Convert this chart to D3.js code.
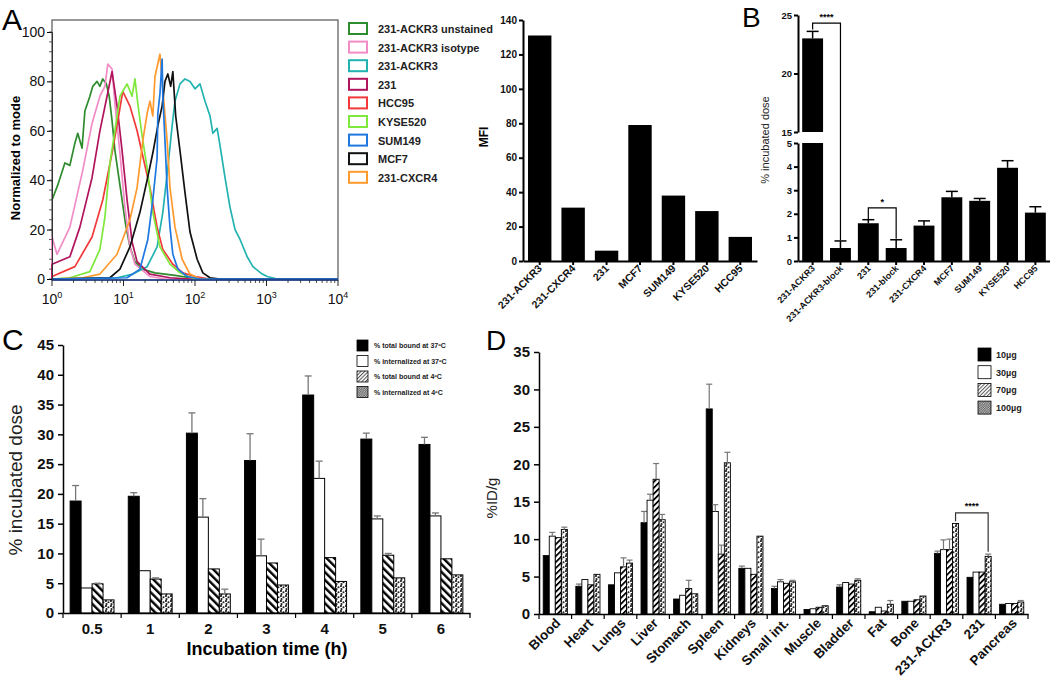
<!DOCTYPE html>
<html><head><meta charset="utf-8">
<script src="https://cdn.jsdelivr.net/npm/d3@7"></script>
<style>body{margin:0;background:#fff}svg{font-family:Arial,"Liberation Sans",sans-serif}</style>
</head><body>
<svg id="c" width="1050" height="690"></svg>
<script>
// ---------- Panel A: histogram (log10 intensity, % of mode) ----------
const histNames = ["231-ACKR3 unstained","231-ACKR3 isotype","231-ACKR3","231","HCC95","KYSE520","SUM149","MCF7","231-CXCR4"];
const histColors = ["#2e8b2e","#f28cc6","#22b3b0","#b0145c","#f23a3a","#7ee83c","#1f78e0","#111111","#ff9a2e"];
const curveUnstained = [[0,32],[.08,38],[.18,47],[.25,46],[.32,55],[.36,59],[.42,53],[.46,68],[.53,74],[.57,78],[.63,80],[.67,78],[.71,81],[.76,79],[.80,74],[.84,64],[.88,52],[.94,40],[.98,32],[1.03,22],[1.09,13],[1.16,7],[1.26,4],[1.44,2.5],[1.72,1.5],[1.93,.5],[2.07,0],[4,0]];
const curveIsotype = [[0,0],[0,17],[.07,10],[.25,21],[.43,44],[.56,63],[.67,74],[.74,78],[.78,87],[.84,85],[.88,71],[.95,51],[1.02,29],[1.09,13],[1.16,6],[1.37,1],[1.58,0],[4,0]];
const curveACKR3 = [[0,0],[.91,.5],[1.13,2],[1.33,5],[1.47,13],[1.55,27],[1.62,45],[1.68,62],[1.72,72],[1.79,79],[1.86,81],[1.93,80],[2.0,77],[2.07,79],[2.14,72],[2.21,66],[2.25,59],[2.31,61],[2.35,54],[2.42,41],[2.49,29],[2.56,20],[2.63,16],[2.73,9],[2.81,5],[2.94,2],[3.01,1],[3.15,0],[4,0]];
const curve231 = [[0,0],[0,6],[.25,9],[.39,21],[.56,41],[.67,60],[.77,74],[.84,84],[.91,70],[.98,52],[1.05,32],[1.12,15],[1.19,7],[1.37,2],[1.65,.5],[1.92,0],[4,0]];
const curveHCC95 = [[0,1],[.32,5],[.56,17],[.71,32],[.84,51],[.92,64],[.99,76],[1.09,70],[1.19,60],[1.26,51],[1.37,37],[1.47,21],[1.55,12],[1.69,6],[1.83,2.5],[2.0,1],[2.21,0],[4,0]];
const curveKYSE520 = [[0,0],[.25,.5],[.53,3],[.67,12],[.74,25],[.81,47],[.88,60],[.95,74],[1.05,79],[1.12,74],[1.16,81],[1.20,71],[1.26,58],[1.33,45],[1.41,27],[1.51,13],[1.65,6],[1.79,2.5],[2.0,0],[4,0]];
const curveSUM149 = [[0,0],[1.05,.5],[1.23,4],[1.34,16],[1.41,32],[1.47,49],[1.48,67],[1.51,75],[1.54,89],[1.55,74],[1.58,56],[1.61,37],[1.65,21],[1.69,10],[1.76,4],[1.89,1],[2.07,0],[4,0]];
const curveMCF7 = [[0,0],[.81,.5],[.95,4],[1.09,13],[1.23,27],[1.33,40],[1.41,51],[1.48,62],[1.54,70],[1.58,80],[1.62,83],[1.66,78],[1.69,84],[1.73,66],[1.79,52],[1.86,35],[1.93,19],[2.03,8],[2.11,2.5],[2.21,.5],[2.35,0],[4,0]];
const curveCXCR4 = [[0,0],[.43,.5],[.67,2],[.91,10],[1.09,24],[1.19,37],[1.27,56],[1.33,67],[1.37,72],[1.41,66],[1.44,82],[1.51,91],[1.55,77],[1.61,56],[1.65,37],[1.72,21],[1.82,8],[1.93,2],[2.07,0],[4,0]];
const histCurves = [curveUnstained,curveIsotype,curveACKR3,curve231,curveHCC95,curveKYSE520,curveSUM149,curveMCF7,curveCXCR4];
const histDrawOrder = [0,1,2,3,4,5,8,7,6];
const histYTicks = [0,20,40,60,80,100];
const histXExps = [0,1,2,3,4];

// ---------- Panel A: MFI bars ----------
const mfiCategories = ["231-ACKR3","231-CXCR4","231","MCF7","SUM149","KYSE520","HCC95"];
const mfiValues = [131,31,6,79,38,29,14];
const mfiTicks = [0,20,40,60,80,100,120,140];

// ---------- Panel B ----------
const bCategories = ["231-ACKR3","231-ACKR3-block","231","231-block","231-CXCR4","MCF7","SUM149","KYSE520","HCC95"];
const bValues = [23.0,0.55,1.6,0.55,1.5,2.7,2.55,3.95,2.05];
const bErrors = [0.6,0.3,0.15,0.35,0.2,0.25,0.1,0.3,0.25];
const bTicksLow = [0,1,2,3,4,5];
const bTicksHigh = [15,20,25];

// ---------- Panel C ----------
const cTimes = ["0.5","1","2","3","4","5","6"];
const cSeries = ["% total bound at 37ºC","% internalized at 37ºC","% total bound at 4ºC","% internalized at 4ºC"];
const cTotal37 = [18.8,19.6,30.2,25.6,36.6,29.2,28.3];
const cTotal37Err = [2.6,0.6,3.4,4.5,3.2,1.0,1.2];
const cInt37 = [4.2,7.1,16.1,9.6,22.6,15.8,16.3];
const cInt37Err = [0,0,3.1,2.8,2.9,0.5,0.5];
const cTotal4 = [4.9,5.7,7.4,8.4,9.3,9.7,9.1];
const cTotal4Err = [0.1,0.2,0,0,0,0.3,0];
const cInt4 = [2.2,3.2,3.2,4.7,5.3,5.9,6.4];
const cInt4Err = [0,0,0.8,0,0,0,0];
const cTicks = [0,5,10,15,20,25,30,35,40,45];

// ---------- Panel D ----------
const dOrgans = ["Blood","Heart","Lungs","Liver","Stomach","Spleen","Kidneys","Small int.","Muscle","Bladder","Fat","Bone","231-ACKR3","231","Pancreas"];
const dSeries = ["10µg","30µg","70µg","100µg"];
const d10 = [7.8,3.7,3.9,12.2,2.0,27.4,6.1,3.4,0.6,3.6,0.3,1.7,8.1,4.9,1.3];
const d10Err = [0,0.3,0,1.5,0,3.3,0.3,0.3,0,0.3,0,0,0.3,0,0];
const d30 = [10.4,4.6,5.5,15.2,2.5,13.7,6.1,4.3,0.7,4.2,0.9,1.7,8.6,5.6,1.4];
const d30Err = [0.5,0,0,0.8,0,0.9,0,0.3,0,0,0,0,1.3,0,0];
const d70 = [10.2,3.9,6.3,18.0,3.4,8.0,5.3,4.1,0.9,4.0,0.4,1.9,8.6,5.6,1.4];
const d70Err = [0,0,1.2,2.1,1.1,1.2,0,0,0,0,0,0,1.4,0,0];
const d100 = [11.3,5.3,6.8,12.6,2.7,20.2,10.4,4.3,1.1,4.5,1.3,2.4,12.1,7.7,1.6];
const d100Err = [0.3,0,0.4,0.7,0,1.4,0,0.2,0,0.2,0.5,0,0,0.3,0.2];
const dTicks = [0,5,10,15,20,25,30,35];

// =====================================================
const svg = d3.select("#c");
const defs = svg.append("defs");
function stripes(id, angle, size, w, color){
  const p = defs.append("pattern").attr("id",id).attr("patternUnits","userSpaceOnUse")
    .attr("width",size).attr("height",size).attr("patternTransform",`rotate(${angle})`);
  p.append("rect").attr("width",size).attr("height",size).attr("fill","#fff");
  p.append("rect").attr("width",w).attr("height",size).attr("fill",color);
}
function dots(id, size, r, bg, fg, pts){
  const p = defs.append("pattern").attr("id",id).attr("patternUnits","userSpaceOnUse")
    .attr("width",size).attr("height",size);
  p.append("rect").attr("width",size).attr("height",size).attr("fill",bg);
  pts.forEach(q=>p.append("circle").attr("cx",q[0]*size).attr("cy",q[1]*size).attr("r",r).attr("fill",fg));
}
stripes("hatchC",-45,5.5,2.4,"#000");
stripes("hatchD",45,4.2,1.8,"#000");
stripes("hatchFine",45,2.6,1,"#555");
dots("dotC",5,1.05,"#fff","#222",[[0.2,0.2],[0.7,0.45],[0.3,0.8]]);
dots("dotFine",2.4,0.7,"#ccc","#555",[[0.25,0.25],[0.75,0.75]]);

function styleAxis(g, fs, fw, sw){
  g.attr("font-family",null).attr("font-size",null);
  g.selectAll("text").attr("font-size",fs).attr("font-weight",fw).attr("fill","#111");
  g.selectAll(".tick line").attr("stroke","#000").attr("stroke-width",sw);
  g.select(".domain").attr("stroke","#000").attr("stroke-width",sw);
}
function letter(t,x,y,fs){ svg.append("text").attr("x",x).attr("y",y).attr("font-size",fs).text(t); }

// ---------------- Panel A histogram ----------------
letter("A",2,30,30);
const hx = d3.scaleLog().domain([1,1e4]).range([52,338]);
const hy = d3.scaleLinear().domain([0,100]).range([279,32]);
svg.append("rect").attr("x",52).attr("y",20).attr("width",286).attr("height",260)
  .attr("fill","none").attr("stroke","#555").attr("stroke-width",1.2);
const hline = d3.line().x(d=>hx(Math.pow(10,d[0]))).y(d=>hy(d[1]));
histDrawOrder.forEach(i=>{
  svg.append("path").attr("d",hline(histCurves[i])).attr("fill","none")
    .attr("stroke",histColors[i]).attr("stroke-width",1.7).attr("stroke-linejoin","round");
});
const hyAxis = svg.append("g").attr("transform","translate(52,0)")
  .call(d3.axisLeft(hy).tickValues(histYTicks).tickSize(5).tickPadding(2));
styleAxis(hyAxis,14,"normal",1);
hyAxis.select(".domain").attr("stroke","#333");
d3.range(0,101,4).forEach(v=>{
  svg.append("line").attr("x1",49).attr("x2",52).attr("y1",hy(v)).attr("y2",hy(v)).attr("stroke","#333").attr("stroke-width",0.8);
});
const hxg = svg.append("g");
hxg.append("line").attr("x1",52).attr("x2",338).attr("y1",280).attr("y2",280).attr("stroke","#1a3a8a").attr("stroke-width",1.5);
histXExps.forEach(e=>{
  const v = Math.pow(10,e);
  hxg.append("line").attr("x1",hx(v)).attr("x2",hx(v)).attr("y1",280).attr("y2",286).attr("stroke","#222");
  if(e<4) d3.range(2,10).forEach(m=>{
    hxg.append("line").attr("x1",hx(m*v)).attr("x2",hx(m*v)).attr("y1",280).attr("y2",283).attr("stroke","#222").attr("stroke-width",0.8);
  });
  const t = hxg.append("text").attr("x",hx(v)).attr("y",304).attr("text-anchor","middle").attr("font-size",14).attr("fill","#111");
  t.append("tspan").text("10");
  t.append("tspan").attr("dy",-6).attr("font-size",9).text(e);
});
svg.append("text").attr("transform","translate(20,158) rotate(-90)").attr("text-anchor","middle")
  .attr("font-size",13).attr("font-weight","bold").text("Normalized to mode");
histNames.forEach((n,i)=>{
  const y = 23 + i*18.6;
  svg.append("rect").attr("x",349).attr("y",y).attr("width",18).attr("height",11)
    .attr("fill","#fff").attr("stroke",histColors[i]).attr("stroke-width",2);
  svg.append("text").attr("x",378).attr("y",y+10).attr("font-size",11).attr("font-weight","bold").attr("fill","#222").text(n);
});

// ---------------- Panel A MFI bars ----------------
const mx = d3.scaleBand().domain(mfiCategories).range([523,757]).paddingInner(0.3).paddingOuter(0.15);
const my = d3.scaleLinear().domain([0,140]).range([261,20]);
svg.append("g").selectAll("rect").data(mfiCategories).join("rect")
  .attr("x",d=>mx(d)).attr("width",mx.bandwidth())
  .attr("y",(d,i)=>my(mfiValues[i])).attr("height",(d,i)=>my(0)-my(mfiValues[i])).attr("fill","#000");
const myAxis = svg.append("g").attr("transform","translate(523,0)")
  .call(d3.axisLeft(my).tickValues(mfiTicks).tickSize(4).tickSizeOuter(0).tickPadding(2));
styleAxis(myAxis,10,"bold",2);
const mxAxis = svg.append("g").attr("transform","translate(0,261)")
  .call(d3.axisBottom(mx).tickSize(4).tickSizeOuter(0));
styleAxis(mxAxis,10.5,"bold",2);
mxAxis.selectAll("text").attr("text-anchor","end").attr("dy",null).attr("y",null)
  .attr("transform","translate(3,8) rotate(-45)");
svg.append("text").attr("transform","translate(488,137) rotate(-90)").attr("text-anchor","middle")
  .attr("font-size",12).attr("font-weight","bold").text("MFI");

// ---------------- Panel B ----------------
letter("B",742,27,28);
const bx = d3.scaleBand().domain(bCategories).range([798,1050]).paddingInner(0.25).paddingOuter(0.15);
const byL = d3.scaleLinear().domain([0,5]).range([261,143]);
const byH = d3.scaleLinear().domain([15,25]).range([132,15]);
const bY = v => v<=5 ? byL(v) : byH(v);
bCategories.forEach((c,i)=>{
  const v = bValues[i], x = bx(c), w = bx.bandwidth();
  if(v<=5){
    svg.append("rect").attr("x",x).attr("width",w).attr("y",byL(v)).attr("height",byL(0)-byL(v)).attr("fill","#000");
  } else {
    svg.append("rect").attr("x",x).attr("width",w).attr("y",byL(5)).attr("height",byL(0)-byL(5)).attr("fill","#000");
    svg.append("rect").attr("x",x).attr("width",w).attr("y",byH(v)).attr("height",byH(15)-byH(v)).attr("fill","#000");
  }
  const cxm = x + w/2, top = bY(v+bErrors[i]);
  svg.append("line").attr("x1",cxm).attr("x2",cxm).attr("y1",bY(v)).attr("y2",top).attr("stroke","#000").attr("stroke-width",1.5);
  svg.append("line").attr("x1",cxm-6).attr("x2",cxm+6).attr("y1",top).attr("y2",top).attr("stroke","#000").attr("stroke-width",1.5);
});
const bAxL = svg.append("g").attr("transform","translate(798,0)")
  .call(d3.axisLeft(byL).tickValues(bTicksLow).tickFormat(d3.format("d")).tickSize(4).tickSizeOuter(0).tickPadding(2));
styleAxis(bAxL,9.5,"bold",2);
const bAxH = svg.append("g").attr("transform","translate(798,0)")
  .call(d3.axisLeft(byH).tickValues(bTicksHigh).tickFormat(d3.format("d")).tickSize(4).tickSizeOuter(0).tickPadding(2));
styleAxis(bAxH,9.5,"bold",2);
const bxAxis = svg.append("g").attr("transform","translate(0,261)")
  .call(d3.axisBottom(bx).tickSize(4).tickSizeOuter(0));
styleAxis(bxAxis,9,"bold",2);
bxAxis.selectAll("text").attr("text-anchor","end").attr("dy",null).attr("y",null)
  .attr("transform","translate(3,8) rotate(-45)");
svg.append("text").attr("transform","translate(769,140) rotate(-90)").attr("text-anchor","middle")
  .attr("font-size",11).attr("fill","#222").text("% incubated dose");
function bracket(x1,y1,x2,y2,yh,label){
  svg.append("path").attr("d",`M${x1},${y1}V${yh}H${x2}V${y2}`).attr("fill","none").attr("stroke","#000").attr("stroke-width",1.2);
  svg.append("text").attr("x",(x1+x2)/2).attr("y",yh-3).attr("text-anchor","middle").attr("font-size",9).attr("font-weight","bold").text(label);
}
{
  const c0 = bx(bCategories[0])+bx.bandwidth()/2, c1 = bx(bCategories[1])+bx.bandwidth()/2;
  bracket(c0,bY(bValues[0]+bErrors[0])-2,c1,bY(bValues[1]+bErrors[1])-1,byH(24.3),"****");
  const c2 = bx(bCategories[2])+bx.bandwidth()/2, c3 = bx(bCategories[3])+bx.bandwidth()/2;
  bracket(c2,byL(2.25)+12,c3,bY(bValues[3]+bErrors[3])-1,byL(2.25),"*");
}

// ---------------- Panel C ----------------
letter("C",2,350,30);
const cx0 = d3.scaleBand().domain(cTimes).range([63,470]);
const cx1 = d3.scaleBand().domain(cSeries).range([0,cx0.bandwidth()]).paddingOuter(0.65);
const cy = d3.scaleLinear().domain([0,45]).range([613,345]);
const cVals = [cTotal37,cInt37,cTotal4,cInt4];
const cErrs = [cTotal37Err,cInt37Err,cTotal4Err,cInt4Err];
const cFills = ["#000","#fff","url(#hatchC)","url(#dotC)"];
cSeries.forEach((s,si)=>{
  cTimes.forEach((t,ti)=>{
    const v = cVals[si][ti], e = cErrs[si][ti];
    const x = cx0(t)+cx1(s), w = cx1.bandwidth();
    svg.append("rect").attr("x",x).attr("width",w).attr("y",cy(v)).attr("height",cy(0)-cy(v))
      .attr("fill",cFills[si]).attr("stroke","#000").attr("stroke-width",1);
    if(e>0){
      const xm = x+w/2;
      svg.append("line").attr("x1",xm).attr("x2",xm).attr("y1",cy(v)).attr("y2",cy(v+e)).attr("stroke","#777").attr("stroke-width",1.3);
      svg.append("line").attr("x1",xm-3.5).attr("x2",xm+3.5).attr("y1",cy(v+e)).attr("y2",cy(v+e)).attr("stroke","#777").attr("stroke-width",1.3);
    }
  });
});
const cyAxis = svg.append("g").attr("transform","translate(63,0)")
  .call(d3.axisLeft(cy).tickValues(cTicks).tickSize(5).tickSizeOuter(0).tickPadding(4));
styleAxis(cyAxis,15,"bold",1.5);
const cxAxis = svg.append("g").attr("transform","translate(0,613)")
  .call(d3.axisBottom(cx0).tickSize(0).tickSizeOuter(0).tickPadding(10));
styleAxis(cxAxis,15,"bold",1.5);
cTimes.concat([null]).forEach(t=>{
  const x = t===null ? 470 : cx0(t);
  svg.append("line").attr("x1",x).attr("x2",x).attr("y1",613).attr("y2",618).attr("stroke","#000").attr("stroke-width",1.2);
});
svg.append("text").attr("x",267).attr("y",655).attr("text-anchor","middle").attr("font-size",18).attr("font-weight","bold").text("Incubation time (h)");
svg.append("text").attr("transform","translate(22,480) rotate(-90)").attr("text-anchor","middle")
  .attr("font-size",19).attr("fill","#222").text("% incubated dose");
const cLegFills = ["#000","#fff","url(#hatchFine)","url(#dotFine)"];
cSeries.forEach((s,i)=>{
  const y = 340 + i*15.5;
  svg.append("rect").attr("x",357).attr("y",y).attr("width",11).attr("height",11).attr("fill",cLegFills[i]).attr("stroke","#000").attr("stroke-width",0.8);
  svg.append("text").attr("x",374).attr("y",y+8).attr("font-size",7).attr("font-weight","bold").attr("fill","#222").text(s);
});

// ---------------- Panel D ----------------
letter("D",486,350,28);
const dx0 = d3.scaleBand().domain(dOrgans).range([539,1028]);
const dx1 = d3.scaleBand().domain(dSeries).range([0,dx0.bandwidth()]).paddingOuter(0.7);
const dy = d3.scaleLinear().domain([0,35]).range([614,352]);
const dVals = [d10,d30,d70,d100];
const dErrs = [d10Err,d30Err,d70Err,d100Err];
const dFills = ["#000","#fff","url(#hatchD)","url(#dotC)"];
dSeries.forEach((s,si)=>{
  dOrgans.forEach((o,oi)=>{
    const v = dVals[si][oi], e = dErrs[si][oi];
    const x = dx0(o)+dx1(s), w = dx1.bandwidth();
    svg.append("rect").attr("x",x).attr("width",w).attr("y",dy(v)).attr("height",dy(0)-dy(v))
      .attr("fill",dFills[si]).attr("stroke","#000").attr("stroke-width",0.9);
    if(e>0){
      const xm = x+w/2;
      svg.append("line").attr("x1",xm).attr("x2",xm).attr("y1",dy(v)).attr("y2",dy(v+e)).attr("stroke","#777").attr("stroke-width",1.2);
      svg.append("line").attr("x1",xm-3).attr("x2",xm+3).attr("y1",dy(v+e)).attr("y2",dy(v+e)).attr("stroke","#777").attr("stroke-width",1.2);
    }
  });
});
const dyAxis = svg.append("g").attr("transform","translate(539,0)")
  .call(d3.axisLeft(dy).tickValues(dTicks).tickSize(5).tickSizeOuter(0).tickPadding(4));
styleAxis(dyAxis,15,"bold",1.5);
const dxAxis = svg.append("g").attr("transform","translate(0,614)")
  .call(d3.axisBottom(dx0).tickSize(0).tickSizeOuter(0));
styleAxis(dxAxis,13.5,"bold",1.5);
dxAxis.selectAll("text").attr("text-anchor","end").attr("dy",null).attr("y",null)
  .attr("transform","translate(6,10) rotate(-45)");
dOrgans.concat([null]).forEach(o=>{
  const x = o===null ? 1028 : dx0(o);
  svg.append("line").attr("x1",x).attr("x2",x).attr("y1",614).attr("y2",619).attr("stroke","#000").attr("stroke-width",1.2);
});
svg.append("text").attr("transform","translate(497,498) rotate(-90)").attr("text-anchor","middle")
  .attr("font-size",15).attr("fill","#222").text("%ID/g");
const dLegFills = ["#000","#fff","url(#hatchFine)","url(#dotFine)"];
dSeries.forEach((s,i)=>{
  const y = 348 + i*17.7;
  svg.append("rect").attr("x",978).attr("y",y).attr("width",13).attr("height",13).attr("fill",dLegFills[i]).attr("stroke","#000").attr("stroke-width",0.8);
  svg.append("text").attr("x",996).attr("y",y+10).attr("font-size",9).attr("font-weight","bold").attr("fill","#222").text(s);
});
{
  const o1 = "231-ACKR3", o2 = "231", s = "100µg";
  const x1 = dx0(o1)+dx1(s)+dx1.bandwidth()/2, x2 = dx0(o2)+dx1(s)+dx1.bandwidth()/2;
  const i1 = dOrgans.indexOf(o1), i2 = dOrgans.indexOf(o2);
  const yh = dy(13.5);
  svg.append("path").attr("d",`M${x1},${dy(d100[i1]+0.3)}V${yh}H${x2}V${dy(d100[i2]+d100Err[i2]+0.3)}`)
    .attr("fill","none").attr("stroke","#333").attr("stroke-width",1.2);
  svg.append("text").attr("x",(x1+x2)/2).attr("y",yh-4).attr("text-anchor","middle").attr("font-size",9).attr("font-weight","bold").text("****");
}
</script>
</body></html>
